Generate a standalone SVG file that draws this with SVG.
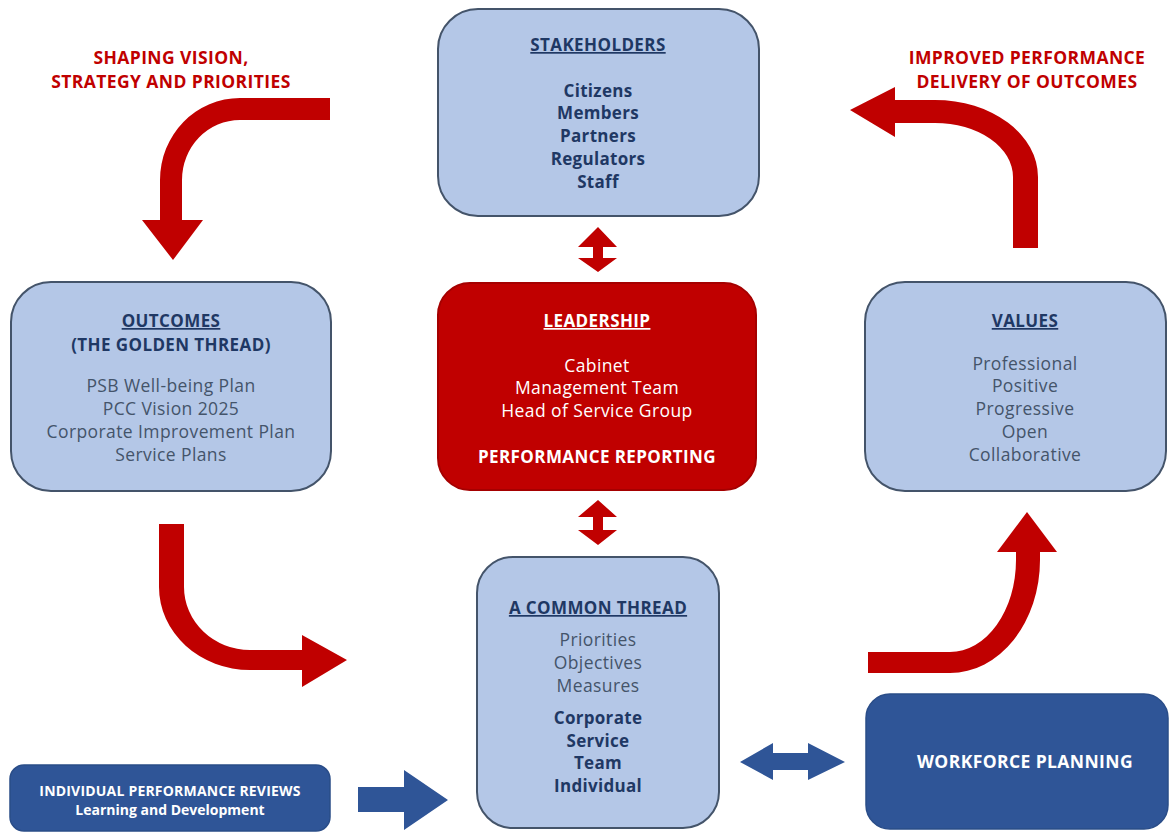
<svg xmlns="http://www.w3.org/2000/svg" width="1171" height="833" viewBox="0 0 1171 833">
  <style>
    text { font-family: "Open Sans", "Liberation Sans", sans-serif; text-anchor: middle; }
    .box { fill: #b4c7e7; stroke: #44546a; stroke-width: 2; }
    .lead { fill: #c00000; stroke: #a50000; stroke-width: 2; }
    .dark { fill: #2f5597; stroke: #2a4d88; stroke-width: 1.5; }
    .head { font-weight: 700; font-size: 17px; letter-spacing: 0.4px; fill: #1f3864; text-decoration: underline; }
    .head2 { font-weight: 700; font-size: 17px; letter-spacing: 0.4px; fill: #1f3864; }
    .item { font-size: 17.5px; letter-spacing: 0.4px; fill: #44546a; }
    .itemb { font-weight: 700; font-size: 17px; letter-spacing: 0.3px; fill: #1f3864; }
    .w { fill: #ffffff; }
    .lbl { font-weight: 700; font-size: 17.5px; letter-spacing: 0.4px; fill: #c00000; }
    .redarrow { fill: #c00000; }
    .bluearrow { fill: #2f5597; }
  </style>

  <rect width="1171" height="833" fill="#ffffff"/>

  <!-- flow labels -->
  <g id="label-shaping">
    <text class="lbl" x="171" y="64">SHAPING VISION,</text>
    <text class="lbl" x="171" y="88">STRATEGY AND PRIORITIES</text>
  </g>
  <g id="label-improved">
    <text class="lbl" x="1027" y="64">IMPROVED PERFORMANCE</text>
    <text class="lbl" x="1027" y="88">DELIVERY OF OUTCOMES</text>
  </g>

  <!-- connectors -->
  <g id="connectors">
    <!-- curved red cycle arrows -->
    <path class="redarrow" d="M330,98 L240,98 A80,82 0 0 0 160,180 L160,220 L142,220 L173,260 L203,220 L182,220 L182,180 A58,60 0 0 1 240,120 L330,120 Z"/>
    <path class="redarrow" d="M1038,248 L1038,177 A103,77 0 0 0 935,100 L895,100 L895,87 L850,110 L895,137 L895,123 L935,123 A78,54 0 0 1 1013,177 L1013,248 Z"/>
    <path class="redarrow" d="M159,524 L159,587 A91,83 0 0 0 250,670 L302,670 L302,687 L347,660 L302,635 L302,650 L250,650 A66,63 0 0 1 184,587 L184,524 Z"/>
    <path class="redarrow" d="M868,652 L950,652 A66,92 0 0 0 1016,560 L1016,552 L997,552 L1027,512 L1057,552 L1040,552 L1040,560 A90,113 0 0 1 950,673 L868,673 Z"/>
    <!-- vertical double arrows around leadership -->
    <path class="redarrow" d="M598,227 L617,247 L603,247 L603,258 L617,258 L598,272 L578,258 L593,258 L593,247 L578,247 Z"/>
    <path class="redarrow" d="M598,500 L617,517 L603,517 L603,530 L617,530 L598,545 L578,530 L593,530 L593,517 L578,517 Z"/>
    <!-- blue arrows -->
    <path class="bluearrow" d="M358,787 L404,787 L404,770 L448,800 L404,830 L404,812 L358,812 Z"/>
    <path class="bluearrow" d="M740,762 L773,743 L773,753 L808,753 L808,743 L845,762 L808,780 L808,770 L773,770 L773,780 Z"/>
  </g>

  <!-- nodes -->
  <g id="stakeholders">
    <rect class="box" x="438" y="9" width="321" height="207" rx="40"/>
    <text class="head" x="598" y="51">STAKEHOLDERS</text>
    <text class="itemb" x="598" y="97">Citizens</text>
    <text class="itemb" x="598" y="119">Members</text>
    <text class="itemb" x="598" y="142">Partners</text>
    <text class="itemb" x="598" y="165">Regulators</text>
    <text class="itemb" x="598" y="188">Staff</text>
  </g>

  <g id="outcomes">
    <rect class="box" x="11" y="282" width="320" height="209" rx="40"/>
    <text class="head" x="171" y="327">OUTCOMES</text>
    <text class="head2" x="171" y="351">(THE GOLDEN THREAD)</text>
    <text class="item" x="171" y="392">PSB Well-being Plan</text>
    <text class="item" x="171" y="415">PCC Vision 2025</text>
    <text class="item" x="171" y="438">Corporate Improvement Plan</text>
    <text class="item" x="171" y="461">Service Plans</text>
  </g>

  <g id="leadership">
    <rect class="lead" x="438" y="283" width="318" height="207" rx="32"/>
    <text class="head w" x="597" y="327">LEADERSHIP</text>
    <text class="item w" x="597" y="372">Cabinet</text>
    <text class="item w" x="597" y="394">Management Team</text>
    <text class="item w" x="597" y="417">Head of Service Group</text>
    <text class="head2 w" x="597" y="463">PERFORMANCE REPORTING</text>
  </g>

  <g id="values">
    <rect class="box" x="865" y="282" width="301" height="209" rx="40"/>
    <text class="head" x="1025" y="327">VALUES</text>
    <text class="item" x="1025" y="370">Professional</text>
    <text class="item" x="1025" y="392">Positive</text>
    <text class="item" x="1025" y="415">Progressive</text>
    <text class="item" x="1025" y="438">Open</text>
    <text class="item" x="1025" y="461">Collaborative</text>
  </g>

  <g id="common-thread">
    <rect class="box" x="477" y="557" width="242" height="271" rx="36"/>
    <text class="head" x="598" y="614">A COMMON THREAD</text>
    <text class="item" x="598" y="646">Priorities</text>
    <text class="item" x="598" y="669">Objectives</text>
    <text class="item" x="598" y="692">Measures</text>
    <text class="itemb" x="598" y="724">Corporate</text>
    <text class="itemb" x="598" y="747">Service</text>
    <text class="itemb" x="598" y="769">Team</text>
    <text class="itemb" x="598" y="792">Individual</text>
  </g>

  <g id="individual-reviews">
    <rect class="dark" x="10" y="765" width="320" height="66" rx="14"/>
    <text class="w" x="170" y="796" font-size="14" font-weight="700" letter-spacing="0.2">INDIVIDUAL PERFORMANCE REVIEWS</text>
    <text class="w" x="170" y="815" font-size="14" font-weight="700">Learning and Development</text>
  </g>

  <g id="workforce-planning">
    <rect class="dark" x="866" y="694" width="302" height="135" rx="24"/>
    <text class="w" x="1025" y="768" font-size="17.5" font-weight="700" letter-spacing="0.4">WORKFORCE PLANNING</text>
  </g>
</svg>
